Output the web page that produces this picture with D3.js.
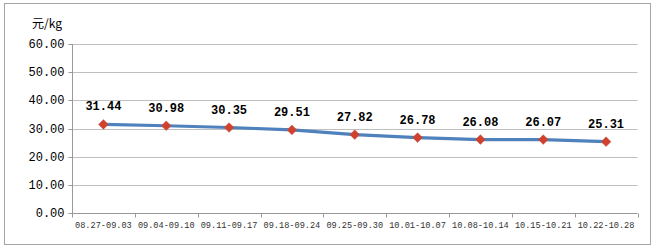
<!DOCTYPE html>
<html><head><meta charset="utf-8">
<script src="https://cdn.jsdelivr.net/npm/d3@7"></script>
<style>body{margin:0;background:#fff}svg{display:block}</style>
</head><body>
<script>
const categories = ["08.27-09.03","09.04-09.10","09.11-09.17","09.18-09.24","09.25-09.30","10.01-10.07","10.08-10.14","10.15-10.21","10.22-10.28"];
const prices = [31.44,30.98,30.35,29.51,27.82,26.78,26.08,26.07,25.31];
const yTicks = [0,10,20,30,40,50,60];
const unitLabel = "元/kg";

const W = 657, H = 250;
const svg = d3.select("body").append("svg").attr("width", W).attr("height", H);
svg.append("rect").attr("x",4.5).attr("y",3.5).attr("width",646).attr("height",241)
  .attr("fill","#fff").attr("stroke","#a6a6a6");

const x = d3.scaleBand().domain(categories).range([72,637.5]);
const y = d3.scaleLinear().domain([0,60]).range([213,44]);

// grid
svg.append("g").selectAll("line").data(yTicks.filter(d=>d>0)).join("line")
  .attr("x1",72).attr("x2",637.5).attr("y1",d=>Math.round(y(d))+0.5).attr("y2",d=>Math.round(y(d))+0.5)
  .attr("stroke","#bfbfbf").attr("stroke-width",1);

// y axis
const ya = svg.append("g").attr("transform","translate(72.5,0)")
  .call(d3.axisLeft(y).tickValues(yTicks).tickFormat(d3.format(".2f")).tickSize(4).tickPadding(4));
ya.select(".domain").attr("stroke","#999").attr("d","M0,44V213");
ya.selectAll(".tick line").attr("stroke","#999");
ya.selectAll(".tick").attr("transform", d=>`translate(0,${Math.round(y(d))+0.5})`);
ya.selectAll("text").attr("font-family","'Liberation Mono', monospace").attr("font-size",12).attr("fill","#000");

// x axis
const xa = svg.append("g").attr("transform","translate(0,213.5)");
xa.append("line").attr("x1",72).attr("x2",637.5).attr("stroke","#999");
const bounds = categories.map(c=>x(c)).concat([x.range()[1]]);
xa.selectAll(".bt").data(bounds).join("line").attr("class","bt")
  .attr("x1",d=>Math.round(d)+0.5).attr("x2",d=>Math.round(d)+0.5).attr("y1",0).attr("y2",4).attr("stroke","#999");
xa.selectAll("text").data(categories).join("text")
  .attr("x",d=>x(d)+x.bandwidth()/2).attr("y",14.5).attr("text-anchor","middle")
  .attr("font-family","'Liberation Mono', monospace").attr("font-size",8.6).attr("fill","#333")
  .text(d=>d);

// line
const cx = d=>x(d)+x.bandwidth()/2;
svg.append("path").datum(prices.map((v,i)=>[categories[i],v]))
  .attr("d", d3.line().x(d=>cx(d[0])).y(d=>y(d[1])))
  .attr("fill","none").attr("stroke","#4f81bd").attr("stroke-width",3.2).attr("stroke-linejoin","round");

// markers
svg.append("g").selectAll("path").data(prices).join("path")
  .attr("transform",(d,i)=>`translate(${cx(categories[i])},${y(d)})`)
  .attr("d", d3.symbol(d3.symbolDiamond2, 60))
  .attr("fill","#d0422b").attr("stroke","#c0504d").attr("stroke-width",0.5);

// labels
svg.append("g").selectAll("text").data(prices).join("text")
  .attr("x",(d,i)=>cx(categories[i])).attr("y",d=>y(d)-14)
  .attr("text-anchor","middle").attr("font-family","'Liberation Mono', monospace")
  .attr("font-size",12).attr("font-weight","bold").attr("fill","#000")
  .text(d=>d.toFixed(2));

svg.append("text").attr("x",32).attr("y",28).attr("font-family","'Noto Sans CJK SC', sans-serif")
  .attr("font-size",12).attr("fill","#000").text(unitLabel);
</script>
</body></html>
